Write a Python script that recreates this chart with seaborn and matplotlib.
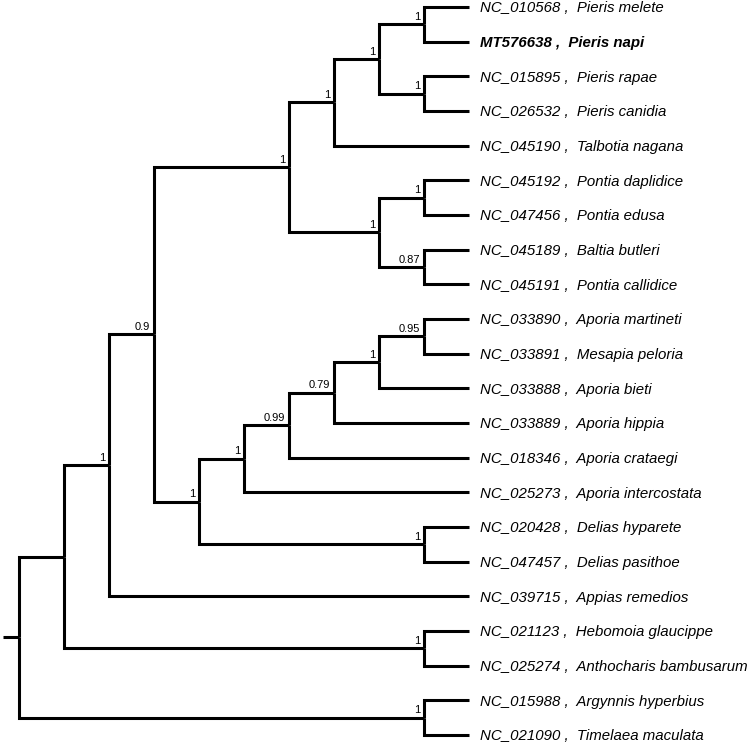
import matplotlib
matplotlib.use("Agg")
import matplotlib.pyplot as plt
import seaborn as sns
import pandas as pd

# --- tip labels (accession, species) ---
accessions = ["NC_010568", "MT576638", "NC_015895", "NC_026532", "NC_045190",
              "NC_045192", "NC_047456", "NC_045189", "NC_045191", "NC_033890",
              "NC_033891", "NC_033888", "NC_033889", "NC_018346", "NC_025273",
              "NC_020428", "NC_047457", "NC_039715", "NC_021123", "NC_025274",
              "NC_015988", "NC_021090"]
species = ["Pieris melete", "Pieris napi", "Pieris rapae", "Pieris canidia",
           "Talbotia nagana", "Pontia daplidice", "Pontia edusa", "Baltia butleri",
           "Pontia callidice", "Aporia martineti", "Mesapia peloria", "Aporia bieti",
           "Aporia hippia", "Aporia crataegi", "Aporia intercostata",
           "Delias hyparete", "Delias pasithoe", "Appias remedios",
           "Hebomoia glaucippe", "Anthocharis bambusarum", "Argynnis hyperbius",
           "Timelaea maculata"]
highlight = ["MT576638"]

# --- topology with posterior support (newick pieces) ---
pierini = ("((((NC_010568,MT576638)1,(NC_015895,NC_026532)1)1,NC_045190)1,"
           "((NC_045192,NC_047456)1,(NC_045189,NC_045191)0.87)1)1")
aporiini = ("((((((NC_033890,NC_033891)0.95,NC_033888)1,NC_033889)0.79,"
            "NC_018346)0.99,NC_025273)1,(NC_020428,NC_047457)1)1")
newick = ("((((" + pierini + "," + aporiini + ")0.9,NC_039715)1,"
          "(NC_021123,NC_025274)1),(NC_015988,NC_021090)1);")


def parse(s, i=0):
    if s[i] == "(":
        children = []
        i += 1
        while True:
            child, i = parse(s, i)
            children.append(child)
            if s[i] == ",":
                i += 1
                continue
            i += 1  # ')'
            break
        j = i
        while s[i] not in ",);":
            i += 1
        return {"children": children, "label": s[j:i]}, i
    j = i
    while s[i] not in ",);":
        i += 1
    return {"children": [], "name": s[j:i]}, i


tree, _ = parse(newick)

# layout: cladogram, tips equally spaced
order = []


def height(n):
    if not n["children"]:
        n["h"] = 0
    else:
        n["h"] = 1 + max(height(c) for c in n["children"])
    return n["h"]


def assign_y(n):
    if not n["children"]:
        n["y"] = len(order)
        order.append(n["name"])
    else:
        for c in n["children"]:
            assign_y(c)
        n["y"] = (n["children"][0]["y"] + n["children"][-1]["y"]) / 2


height(tree)
assign_y(tree)
depth = tree["h"]

rows = []
supports = []


def walk(n):
    n["x"] = depth - n["h"]
    for k, c in enumerate(n["children"]):
        c["x"] = depth - c["h"]
        for px, py in [(n["x"], n["y"]), (n["x"], c["y"]), (c["x"], c["y"])]:
            rows.append({"x": px, "y": py, "seg": f"{id(n)}_{k}"})
        if c["children"] and c["label"]:
            supports.append((c["x"], c["y"], c["label"]))
        walk(c)


walk(tree)
rows += [{"x": -0.36, "y": tree["y"], "seg": "root"}, {"x": 0, "y": tree["y"], "seg": "root"}]
df = pd.DataFrame(rows)

sns.set_theme(style="white")
plt.rcParams["font.family"] = ["Liberation Sans", "DejaVu Sans"]

W, H = 755, 747
fig = plt.figure(figsize=(W / 100, H / 100), dpi=100)
ax = fig.add_axes([0, 0, 1, 1])

sns.lineplot(data=df, x="x", y="y", units="seg", estimator=None, sort=False,
             color="black", linewidth=2.2, ax=ax,
             solid_joinstyle="miter", solid_capstyle="butt")

# pixel geometry: 45 px per level, root at x=19; tips 34.67 px apart from y=7
xs, x0 = 45.0, 19.0
ys, y0 = 34.67, 7.0
ax.set_xlim(-x0 / xs, (W - x0) / xs)
ax.set_ylim((H - y0) / ys, -y0 / ys)
ax.axis("off")

lookup = dict(zip(accessions, species))
for i, acc in enumerate(order):
    bold = acc in highlight
    ax.text(depth + 11 / xs, i + 5.4 / ys, f"{acc} ,  {lookup[acc]}",
            fontsize=10.8, style="italic", fontweight="bold" if bold else "normal",
            ha="left", va="baseline", color="black")

for sx, sy, lab in supports:
    ax.text(sx - 4 / xs, sy - 4.5 / ys, lab, fontsize=8, ha="right",
            va="baseline", color="black")

fig.savefig("out.png", dpi=100)
